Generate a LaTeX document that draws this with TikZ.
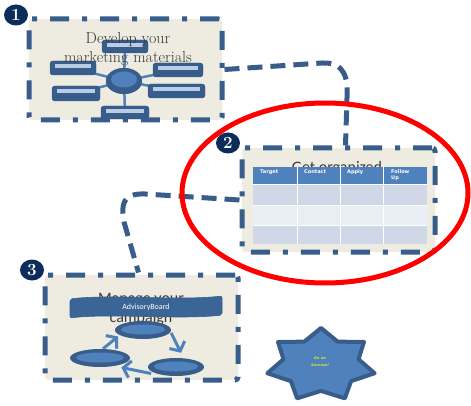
\documentclass[tikz,border=0pt]{standalone}
\usepackage{fontspec}
\newfontfamily\carl{Carlito}
\newfontfamily\dvs{DejaVu Sans}
\usetikzlibrary{shapes.geometric,arrows.meta,calc}
\definecolor{paper}{HTML}{EEECE1}
\definecolor{frame}{HTML}{385D8A}
\definecolor{midblue}{HTML}{4F81BD}
\definecolor{paleblue}{HTML}{B9CDE5}
\definecolor{rowa}{HTML}{D0D8E8}
\definecolor{rowb}{HTML}{E9EDF4}
\definecolor{navy}{HTML}{0C2C5C}
\definecolor{bannerblue}{HTML}{3B6597}
\definecolor{titlegray}{HTML}{3A3A3A}
\definecolor{lime}{HTML}{DCEF1E}
\begin{document}
\begin{tikzpicture}[x=1pt,y=-1pt,
  panel/.style={rectangle,fill=paper,draw=frame,line width=5pt,
    dash pattern=on 19pt off 13pt on 5pt off 13pt,rounded corners=3pt,
    inner sep=0pt,minimum width=193pt},
  link/.style={draw=frame,line width=5pt,dash pattern=on 15pt off 8pt},
  badge/.style={ellipse,fill=navy,text=white,inner sep=0pt,
    minimum width=24pt,minimum height=21pt,font=\bfseries\fontsize{17}{17}\selectfont},
  mmbox/.style={rectangle,rounded corners=3pt,fill=frame,inner sep=0pt},
  spoke/.style={draw=midblue,line width=2.5pt},
  hub/.style={ellipse,fill=frame,inner sep=0pt},
  cyc/.style={draw=midblue,line width=3pt,
    -{Straight Barb[length=7pt,width=17pt,line width=3pt]}},
  head/.style={anchor=north west,text=white,align=left,inner sep=0pt,
    font=\dvs\bfseries\fontsize{5}{6}\selectfont}]
\useasboundingbox (0,0) rectangle (471,406);

% ---- panels ----
\node[panel,minimum height=101pt] (p1) at (125.5,69.5) {};
\node[panel,minimum height=104pt] (p2) at (338.5,200) {};
\node[panel,minimum height=105pt] (p3) at (141.5,327.5) {};

% ---- dashed links between the steps ----
\draw[link] (p1.east) -- (322,63) .. controls (345,62) and (348,78) .. (347,98)
  -- ([xshift=7pt]p2.north);
\draw[link] (p2.west) -- (145,194) .. controls (122,193) and (121,205) .. (124,222)
  -- ([xshift=-3pt]p3.north);

% ---- step 1: mind map ----
\node[hub,minimum width=36pt,minimum height=26pt] (c) at (124,81) {};
\node[mmbox,minimum width=46pt,minimum height=13pt] (b1) at (125,46.5) {};
\node[mmbox,minimum width=46pt,minimum height=14pt] (b2) at (73,68) {};
\node[mmbox,minimum width=50pt,minimum height=14pt] (b3) at (178,70) {};
\node[mmbox,minimum width=48pt,minimum height=15pt] (b4) at (76,93.5) {};
\node[mmbox,minimum width=57pt,minimum height=14pt] (b5) at (176.5,91) {};
\node[mmbox,minimum width=48pt,minimum height=13pt] (b6) at (125,112.5) {};
\foreach \b in {b1,b2,b3,b4,b5,b6}{
  \draw[spoke] (c.center) -- (\b.center);
}
\foreach \b in {b1,b2,b3,b4,b5,b6}{
  \fill[frame,rounded corners=3pt] (\b.north west) rectangle (\b.south east);
  \fill[paleblue] ($(\b.north west)+(5,3.5)$) rectangle ($(\b.north east)+(-5,7.5)$);
}
\fill[frame] (c) ellipse [x radius=18, y radius=13];
\fill[midblue] ($(c.center)+(0,-1.5)$) ellipse [x radius=13, y radius=8];
\node[text=titlegray,anchor=base,font=\fontsize{16}{16}\selectfont] (t1a) at (128,44) {Develop your};
\node[text=titlegray,anchor=base,font=\fontsize{16}{16}\selectfont] (t1b) at (128,63) {marketing materials};

% ---- step 2: table ----
\node[text=titlegray,anchor=base,font=\carl\fontsize{16}{16}\selectfont] (t2) at (337,173) {Get organized};
\fill[midblue] (253,167) rectangle (427,185);
\fill[rowa] (253,185) rectangle (427,206);
\fill[rowb] (253,206) rectangle (427,225);
\fill[rowa] (253,225) rectangle (427,244);
\foreach \x in {297,340,383}{ \draw[white,line width=1pt] (\x,167) -- (\x,244); }
\foreach \y in {185,206,225}{ \draw[white,line width=1pt] (253,\y) -- (427,\y); }
\node[head] (h1) at (260,170) {Target};
\node[head] (h2) at (304,170) {Contact};
\node[head] (h3) at (347,170) {Apply};
\node[head] (h4) at (391,170) {Follow\\Up};

% ---- step 3: campaign cycle ----
\node[text=titlegray,align=center,font=\carl\fontsize{16}{19}\selectfont] (t3) at (141,309) {Manage your\\campaign};
\draw[fill=bannerblue,draw=frame,line width=0.6pt,rounded corners=2pt]
  (70,299) .. controls (110,294) and (180,301) .. (222,296) -- (222,315)
  .. controls (180,320) and (110,313) .. (70,318) -- cycle;
\node[text=white,font=\carl\fontsize{8}{8}\selectfont] (ab) at (146,307.5) {AdvisoryBoard};
\node[hub,minimum width=56pt,minimum height=18pt] (e1) at (143,330) {};
\node[hub,minimum width=60pt,minimum height=18pt] (e2) at (100,358) {};
\node[hub,minimum width=56pt,minimum height=18pt] (e3) at (176,367) {};
\foreach \e/\r in {e1/22,e2/24,e3/22}{
  \fill[midblue] ($(\e.center)+(0,-0.5)$) ellipse [x radius=\r, y radius=5];
}
\draw[cyc] ([xshift=3pt]e2.north) -- ([xshift=-5pt]e1.south west);
\draw[cyc] ([yshift=-3pt]e1.east) -- ([xshift=5pt,yshift=5pt]e3.north);
\draw[cyc] ([xshift=-5pt]e3.south west) -- ([yshift=-3pt]e2.south east);

% ---- seven-point star ----
\draw[fill=midblue,draw=frame,line width=4pt,line join=round]
  (321,328) \foreach \i in {1,...,13}{
    -- ({321+55*(0.85+0.15*cos(\i*180))*cos(90+\i*180/7)},
        {365-37*(0.85+0.15*cos(\i*180))*sin(90+\i*180/7)})
  } -- cycle;
\node[text=lime,align=center,font=\dvs\bfseries\itshape\fontsize{3.6}{6.5}\selectfont] (st) at (320,361.5) {Go on\\Success!};

% ---- step badges ----
\node[badge] (n1) at (16,15) {1};
\node[badge] (n2) at (228,143) {2};
\node[badge] (n3) at (32,270) {3};

% ---- highlight ----
\draw[red,line width=5pt] (325,193) ellipse [x radius=143, y radius=90];
\end{tikzpicture}
\end{document}
